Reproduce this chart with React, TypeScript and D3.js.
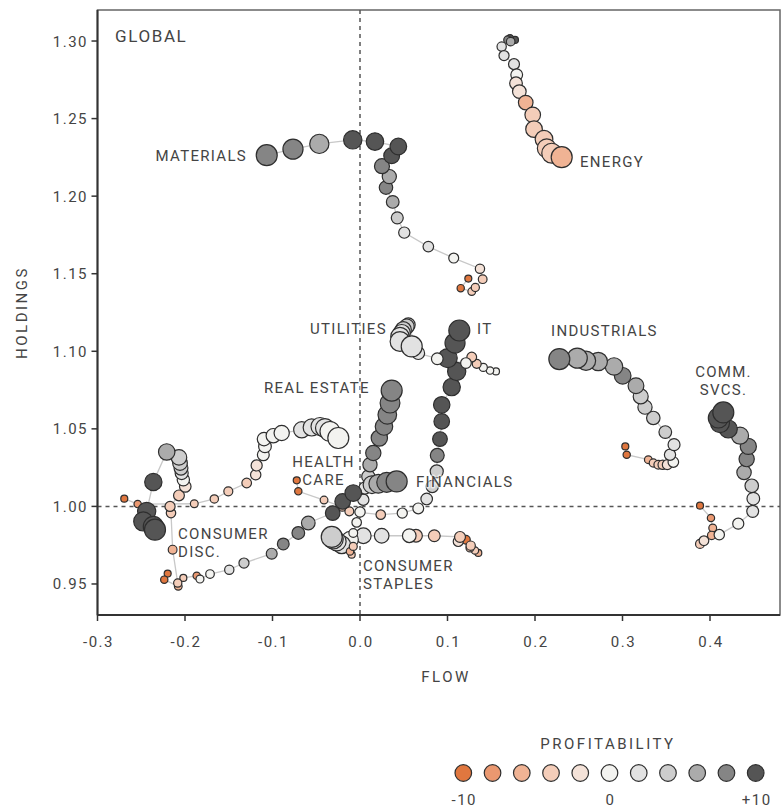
import React from "react";
import * as d3 from "d3";

const W = 784;
const H = 808;

const xTicks = [-0.3, -0.2, -0.1, 0, 0.1, 0.2, 0.3, 0.4];
const yTicks = [0.95, 1.0, 1.05, 1.1, 1.15, 1.2, 1.25, 1.3];
const profitLevels = [-10, -8, -6, -4, -2, 0, 2, 4, 6, 8, 10];
const profitColors = ["#e0773f", "#ea9870", "#f0b394", "#f4cdb9", "#f4e2d8", "#f3f3f0", "#e2e2e2", "#cdcdcd", "#ababab", "#858585", "#555555"];
const legendLabels = [{ v: -10, t: "-10" }, { v: 0, t: "0" }, { v: 10, t: "+10" }];

// [flow, holdings, profitability], oldest -> newest
const materials = [
  [0.1238, 1.1469, -10], [0.1151, 1.1407, -10], [0.1277, 1.1385, -4], [0.1318, 1.1411, -4],
  [0.1402, 1.1465, -4], [0.1371, 1.1532, -2], [0.1071, 1.1601, 0], [0.0781, 1.1675, 2],
  [0.0506, 1.1765, 2], [0.0426, 1.186, 4], [0.0374, 1.1963, 6], [0.0297, 1.2055, 8],
  [0.0335, 1.2126, 6], [0.0251, 1.2193, 8], [0.0362, 1.226, 10], [0.0438, 1.232, 10],
  [0.0171, 1.2352, 10], [-0.0083, 1.2363, 10], [-0.0465, 1.2337, 6], [-0.0766, 1.2303, 8],
  [-0.1066, 1.2264, 8],
];
const energy = [
  [0.1771, 1.3007, 10], [0.1714, 1.3018, 10], [0.1688, 1.3007, 8], [0.1722, 1.2996, 6],
  [0.1619, 1.2964, 2], [0.1646, 1.2906, 2], [0.176, 1.2851, 2], [0.1791, 1.2782, 0],
  [0.1783, 1.2728, -2], [0.1821, 1.2674, -2], [0.1894, 1.2603, -6], [0.1974, 1.2524, -4],
  [0.1989, 1.2432, -4], [0.2103, 1.2367, -4], [0.2134, 1.2309, -4], [0.2191, 1.2277, -4],
  [0.2305, 1.2251, -6],
];
const utilities = [
  [0.1554, 1.087, 0], [0.1486, 1.0876, 0], [0.1409, 1.0896, 0], [0.1334, 1.0919, -4],
  [0.1277, 1.0963, -4], [0.1211, 1.0924, 0], [0.0883, 1.0952, 0], [0.0666, 1.0988, 2],
  [0.0552, 1.1171, 4], [0.0534, 1.116, 4], [0.0495, 1.1139, 4], [0.0477, 1.1117, 2],
  [0.0457, 1.1095, 2], [0.0457, 1.1063, 2], [0.0591, 1.1031, 2],
];
const infoTech = [
  [-0.0723, 1.0168, -10], [-0.0705, 1.0097, -10], [-0.0411, 1.0041, -4], [-0.0202, 0.9996, -4],
  [-0.0122, 0.9968, -4], [0.0237, 0.9947, -4], [0.0483, 0.9957, 0], [0.0666, 0.9987, 0],
  [0.0762, 1.0048, 2], [0.0826, 1.0129, 4], [0.0877, 1.0226, 4], [0.0883, 1.0329, 8],
  [0.0914, 1.0434, 10], [0.0934, 1.0548, 10], [0.0934, 1.0655, 10], [0.1048, 1.0769, 10],
  [0.1105, 1.087, 10], [0.1002, 1.0956, 10], [0.1086, 1.1053, 10], [0.1135, 1.1134, 10],
];
const industrials = [
  [0.3032, 1.0387, -10], [0.3048, 1.0333, -10], [0.3295, 1.0301, -6], [0.3352, 1.028, -4],
  [0.3409, 1.0269, -4], [0.3459, 1.0269, -4], [0.3512, 1.0269, -2], [0.3581, 1.0286, 0],
  [0.3543, 1.0333, 2], [0.3589, 1.0398, 2], [0.3489, 1.0479, 4], [0.3352, 1.057, 4],
  [0.3257, 1.064, 4], [0.3208, 1.0709, 4], [0.3154, 1.0778, 6], [0.3002, 1.0842, 8],
  [0.2903, 1.0902, 6], [0.2723, 1.0934, 6], [0.2583, 1.0939, 6], [0.2483, 1.0956, 6],
  [0.2278, 1.095, 8],
];
const commSvcs = [
  [0.3886, 1.0005, -10], [0.4011, 0.9925, -8], [0.4031, 0.9861, -6], [0.4019, 0.9813, -6],
  [0.3886, 0.9758, -4], [0.3931, 0.9779, -2], [0.4106, 0.9818, 0], [0.4323, 0.9889, 0],
  [0.4488, 0.9968, 2], [0.4495, 1.005, 2], [0.4477, 1.0133, 4], [0.4389, 1.0219, 6],
  [0.4419, 1.0305, 8], [0.4438, 1.0387, 8], [0.4343, 1.0456, 6], [0.4209, 1.0499, 10],
  [0.4114, 1.0537, 10], [0.4095, 1.057, 10], [0.4152, 1.0606, 10],
];
const realEstate = [
  [-0.0095, 0.9689, -4], [-0.0114, 0.971, -6], [-0.0077, 0.9742, -4], [-0.0077, 0.9829, 0],
  [-0.0038, 0.9897, 0], [0.0, 0.9964, 0], [0.0038, 1.0043, 2], [0.0057, 1.0119, 2],
  [0.0095, 1.0193, 4], [0.0114, 1.0269, 6], [0.0152, 1.0344, 8], [0.0221, 1.0441, 8],
  [0.0274, 1.0515, 8], [0.0312, 1.0591, 8], [0.0343, 1.0666, 8], [0.0362, 1.0747, 8],
];
const financials = [
  [-0.2019, 0.9539, -4], [-0.1866, 0.9553, -8], [-0.1829, 0.9532, 0], [-0.1714, 0.9564, 0],
  [-0.1494, 0.9592, 2], [-0.1326, 0.9635, 4], [-0.1009, 0.9695, 6], [-0.0877, 0.9758, 8],
  [-0.0705, 0.9829, 8], [-0.0591, 0.9893, 6], [-0.0312, 0.9957, 10], [-0.0198, 1.0032, 10],
  [-0.0077, 1.0086, 10], [0.0137, 1.014, 4], [0.0209, 1.0146, 6], [0.0305, 1.0155, 8],
  [0.0419, 1.0161, 8],
];
const consumerStaples = [
  [0.1352, 0.97, -6], [0.1314, 0.9716, -4], [0.1257, 0.9732, -4], [0.1211, 0.9785, -10],
  [0.1265, 0.9747, -4], [0.1123, 0.9774, -2], [0.1143, 0.9803, -4], [0.0849, 0.9811, -4],
  [0.064, 0.9811, -4], [0.0563, 0.9811, 0], [0.0248, 0.9811, 2], [0.0038, 0.9811, 2],
  [-0.0114, 0.9785, 0], [-0.0209, 0.9753, 2], [-0.0266, 0.9774, 2], [-0.0305, 0.979, 2],
  [-0.0323, 0.9803, 4],
];
const consumerDisc = [
  [-0.2198, 0.9567, -10], [-0.2237, 0.9528, -10], [-0.2077, 0.9485, -6], [-0.2083, 0.9506, -4],
  [-0.2141, 0.9721, -6], [-0.216, 0.9957, -4], [-0.2171, 1.0, -4], [-0.2069, 1.0071, -4],
  [-0.1997, 1.0129, -2], [-0.2019, 1.0172, 0], [-0.2038, 1.0215, 2], [-0.2046, 1.0247, 4],
  [-0.2057, 1.028, 4], [-0.2069, 1.0316, 4], [-0.2209, 1.0351, 6], [-0.2362, 1.0157, 10],
  [-0.2438, 0.9968, 10], [-0.2477, 0.9903, 10], [-0.2362, 0.9871, 10], [-0.2343, 0.985, 10],
];
const healthCare = [
  [-0.2694, 1.005, -10], [-0.2541, 1.0015, -8], [-0.1894, 1.0017, -4], [-0.1665, 1.0048, -4],
  [-0.1505, 1.0097, -4], [-0.1295, 1.0151, -4], [-0.1192, 1.0204, -2], [-0.1181, 1.0264, -2],
  [-0.1105, 1.0333, 0], [-0.1086, 1.0387, 0], [-0.1097, 1.0434, 0], [-0.0991, 1.0456, 0],
  [-0.0895, 1.0473, 0], [-0.0666, 1.0494, 2], [-0.0552, 1.0509, 2], [-0.0457, 1.0515, 2],
  [-0.04, 1.0505, 2], [-0.0343, 1.0483, 0], [-0.0248, 1.0441, 0],
];

const trails = [materials, energy, industrials, commSvcs, infoTech, utilities, consumerStaples, realEstate, financials, healthCare, consumerDisc];

const sectorLabels = [
  { lines: ["MATERIALS"], x: 155.5, y: 160.7 },
  { lines: ["ENERGY"], x: 580, y: 167.4 },
  { lines: ["UTILITIES"], x: 310, y: 333.7 },
  { lines: ["IT"], x: 477, y: 333.7 },
  { lines: ["INDUSTRIALS"], x: 551, y: 335.7 },
  { lines: ["COMM.", "SVCS."], x: 723.5, y: 376.7, mid: true },
  { lines: ["REAL ESTATE"], x: 264, y: 392.7 },
  { lines: ["HEALTH", "CARE"], x: 323.5, y: 466.7, mid: true },
  { lines: ["FINANCIALS"], x: 416, y: 487.4 },
  { lines: ["CONSUMER", "DISC."], x: 178, y: 538.7 },
  { lines: ["CONSUMER", "STAPLES"], x: 363, y: 570.7 },
];

const FONT = "Roboto, 'Noto Sans', sans-serif";
const TXT = "#444";

export default function App() {
  const left = 97.5, right = 780, top = 10, bottom = 615;
  const x = d3.scaleLinear().domain([-0.3, 0.48]).range([left, right]);
  const y = d3.scaleLinear().domain([0.93, 1.32]).range([bottom, top]);
  const color = d3.scaleOrdinal<number, string>().domain(profitLevels).range(profitColors);
  const rScale = d3.scalePow().exponent(1.3).domain([0, 1]).range([3.5, 10.5]);
  const line = d3.line<number[]>().x((d) => x(d[0])).y((d) => y(d[1]));
  const legendX = d3.scaleLinear().domain([-10, 10]).range([463.3, 755.7]);

  return (
    <svg width={W} height={H} style={{ display: "block", position: "absolute", left: 0, top: 0, background: "#fff" }} fontFamily={FONT}>
      <rect x={0} y={0} width={W} height={H} fill="#fff" />
      {/* frame */}
      <rect x={left} y={top} width={right - left} height={bottom - top} fill="none" stroke="#666" strokeWidth={1.5} />
      {/* reference lines */}
      <line x1={x(0)} x2={x(0)} y1={top} y2={bottom} stroke="#555" strokeWidth={1.5} strokeDasharray="4,4" />
      <line x1={left} x2={right} y1={y(1)} y2={y(1)} stroke="#555" strokeWidth={1.5} strokeDasharray="4,4" />
      {/* axes */}
      <line x1={left} x2={left} y1={top} y2={bottom} stroke="#333" strokeWidth={2} />
      <line x1={left} x2={right} y1={bottom} y2={bottom} stroke="#333" strokeWidth={2} />
      {yTicks.map((t) => (
        <g key={"y" + t}>
          <line x1={left - 6} x2={left} y1={y(t)} y2={y(t)} stroke="#333" strokeWidth={1.5} />
          <text x={88} y={y(t) + 5.5} textAnchor="end" fontSize={15} letterSpacing={1.5} fill={TXT}>
            {t.toFixed(2)}
          </text>
        </g>
      ))}
      {xTicks.map((t) => (
        <g key={"x" + t}>
          <line x1={x(t)} x2={x(t)} y1={bottom} y2={bottom + 6} stroke="#333" strokeWidth={1.5} />
          <text x={x(t) + 1} y={647} textAnchor="middle" fontSize={15} letterSpacing={1.5} fill={TXT}>
            {t.toFixed(1)}
          </text>
        </g>
      ))}
      <text x={446} y={681.5} textAnchor="middle" fontSize={15} letterSpacing={2.5} fill={TXT}>FLOW</text>
      <text transform={`translate(27,${(top + bottom) / 2}) rotate(-90)`} textAnchor="middle" fontSize={15} letterSpacing={2.5} fill={TXT}>HOLDINGS</text>
      <text x={115} y={41.5} fontSize={17} letterSpacing={1.6} fill={TXT}>GLOBAL</text>

      {/* trails */}
      {trails.map((tr, k) => (
        <path key={"l" + k} d={line(tr as number[][]) || ""} fill="none" stroke="#c8c8c8" strokeWidth={1.3} />
      ))}
      {trails.map((tr, k) => (
        <g key={"c" + k}>
          {tr.map((d, i) => (
            <circle key={i} cx={x(d[0])} cy={y(d[1])} r={rScale(i / (tr.length - 1))} fill={color(d[2])} stroke="#2e2e2e" strokeWidth={1.2} />
          ))}
        </g>
      ))}

      {/* sector labels */}
      {sectorLabels.map((s, k) => (
        <text key={"s" + k} x={s.x} y={s.y} textAnchor={s.mid ? "middle" : "start"} fontSize={15} letterSpacing={1.3} fill={TXT}
          stroke="#fff" strokeWidth={3} strokeOpacity={0.6} paintOrder="stroke" strokeLinejoin="round">
          {s.lines.map((ln, j) => (
            <tspan key={j} x={s.x} dy={j === 0 ? 0 : 18}>{ln}</tspan>
          ))}
        </text>
      ))}

      {/* legend */}
      <text x={608} y={748.5} textAnchor="middle" fontSize={15} letterSpacing={2.5} fill={TXT}>PROFITABILITY</text>
      {profitLevels.map((p) => (
        <circle key={"lg" + p} cx={legendX(p)} cy={773} r={8.3} fill={color(p)} stroke="#2e2e2e" strokeWidth={1.2} />
      ))}
      {legendLabels.map((l) => (
        <text key={"ll" + l.v} x={legendX(l.v) + 1} y={804.5} textAnchor="middle" fontSize={15} letterSpacing={1.5} fill={TXT}>{l.t}</text>
      ))}
    </svg>
  );
}
